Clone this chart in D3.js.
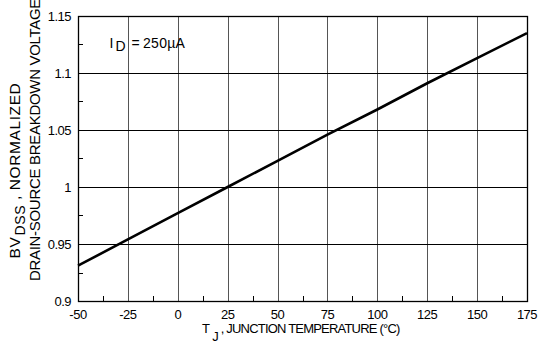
<!DOCTYPE html>
<html>
<head>
<meta charset="utf-8">
<script src="https://cdn.jsdelivr.net/npm/d3@7"></script>
<style>
  body { margin: 0; background: #fff; }
  text { font-family: "Liberation Sans", Arial, sans-serif; fill: #000; }
</style>
</head>
<body>
<div id="chart"></div>
<script>
// Data
const temps = [-50, -25, 0, 25, 50, 75, 100, 125, 150, 175];
const bvNorm = [0.931, 0.954, 0.977, 1.0, 1.023, 1.046, 1.068, 1.091, 1.113, 1.135];
const xTicks = [-50, -25, 0, 25, 50, 75, 100, 125, 150, 175];
const yTicks = [0.9, 0.95, 1, 1.05, 1.1, 1.15];

const dimensions = { width: 539, height: 345, left: 78, right: 527, top: 16, bottom: 301 };

const svg = d3.select("#chart")
  .append("svg")
  .attr("width", dimensions.width)
  .attr("height", dimensions.height);

const xScale = d3.scaleLinear().domain([-50, 175]).range([dimensions.left, dimensions.right]);
const yScale = d3.scaleLinear().domain([0.9, 1.15]).range([dimensions.bottom, dimensions.top]);

// grid
svg.append("g")
  .selectAll("line")
  .data(xTicks.slice(1, -1))
  .join("line")
  .attr("x1", d => Math.round(xScale(d)) + 0.5)
  .attr("x2", d => Math.round(xScale(d)) + 0.5)
  .attr("y1", dimensions.top)
  .attr("y2", dimensions.bottom)
  .attr("stroke", "#555")
  .attr("stroke-width", 1);

svg.append("g")
  .selectAll("line")
  .data(yTicks.slice(1, -1))
  .join("line")
  .attr("x1", dimensions.left)
  .attr("x2", dimensions.right)
  .attr("y1", d => Math.round(yScale(d)) + 0.5)
  .attr("y2", d => Math.round(yScale(d)) + 0.5)
  .attr("stroke", "#000")
  .attr("stroke-width", 1);

// minor ticks (inward)
const minorX = d3.range(-37.5, 175, 25);
const minorY = d3.range(0.925, 1.15, 0.05);
svg.append("g")
  .selectAll("line")
  .data(minorX)
  .join("line")
  .attr("x1", d => Math.round(xScale(d)) + 0.5)
  .attr("x2", d => Math.round(xScale(d)) + 0.5)
  .attr("y1", dimensions.bottom)
  .attr("y2", dimensions.bottom - 5)
  .attr("stroke", "#000");
svg.append("g")
  .selectAll("line")
  .data(minorY)
  .join("line")
  .attr("x1", dimensions.left)
  .attr("x2", dimensions.left + 5)
  .attr("y1", d => Math.round(yScale(d)) + 0.5)
  .attr("y2", d => Math.round(yScale(d)) + 0.5)
  .attr("stroke", "#000");

// frame
svg.append("rect")
  .attr("x", dimensions.left + 0.5)
  .attr("y", dimensions.top + 0.5)
  .attr("width", dimensions.right - dimensions.left)
  .attr("height", dimensions.bottom - dimensions.top)
  .attr("fill", "none")
  .attr("stroke", "#000")
  .attr("stroke-width", 1.3);

// line
const lineGenerator = d3.line()
  .x((d, i) => xScale(temps[i]))
  .y(d => yScale(d));
svg.append("path")
  .datum(bvNorm)
  .attr("d", lineGenerator)
  .attr("fill", "none")
  .attr("stroke", "#000")
  .attr("stroke-width", 2.6);

// tick labels
svg.append("g")
  .selectAll("text")
  .data(xTicks)
  .join("text")
  .attr("x", d => xScale(d))
  .attr("y", 319)
  .attr("text-anchor", "middle")
  .attr("font-size", 13)
  .attr("letter-spacing", -0.5)
  .text(d => d);

svg.append("g")
  .selectAll("text")
  .data(yTicks)
  .join("text")
  .attr("x", 71)
  .attr("y", d => yScale(d) + 4.5)
  .attr("text-anchor", "end")
  .attr("font-size", 13)
  .attr("letter-spacing", -0.5)
  .text(d => d);

// x title
const xt = svg.append("text")
  .attr("x", 202)
  .attr("y", 333)
  .attr("font-size", 13)
  .attr("letter-spacing", -0.8);
xt.append("tspan").text("T");
xt.append("tspan").attr("dx", 3).attr("dy", 8).text("J");
xt.append("tspan").attr("dy", -8).text(" , JUNCTION TEMPERATURE (°C)");

// y title
const yt = svg.append("g").attr("transform", "rotate(-90)");
const y1 = yt.append("text")
  .attr("x", -170.5)
  .attr("y", 20)
  .attr("text-anchor", "middle")
  .attr("font-size", 15.5)
  .attr("letter-spacing", 0.6);
y1.append("tspan").text("BV");
y1.append("tspan").attr("dx", 1).attr("dy", 5).attr("font-size", 14).text("DSS");
y1.append("tspan").attr("dy", -5).text(" , NORMALIZED");
yt.append("text")
  .attr("x", -140)
  .attr("y", 39.5)
  .attr("text-anchor", "middle")
  .attr("font-size", 15)
  .attr("letter-spacing", -0.3)
  .text("DRAIN-SOURCE BREAKDOWN VOLTAGE");

// annotation
const ann = svg.append("text")
  .attr("y", 47.7)
  .attr("font-size", 14);
ann.append("tspan").attr("x", 109.5).text("I");
ann.append("tspan").attr("x", 115.5).attr("dy", 3.5).text("D");
ann.append("tspan").attr("x", 131.5).attr("dy", -3.5).text("=");
ann.append("tspan").attr("x", 143).attr("letter-spacing", 0.3).text("250µA");
</script>
</body>
</html>
